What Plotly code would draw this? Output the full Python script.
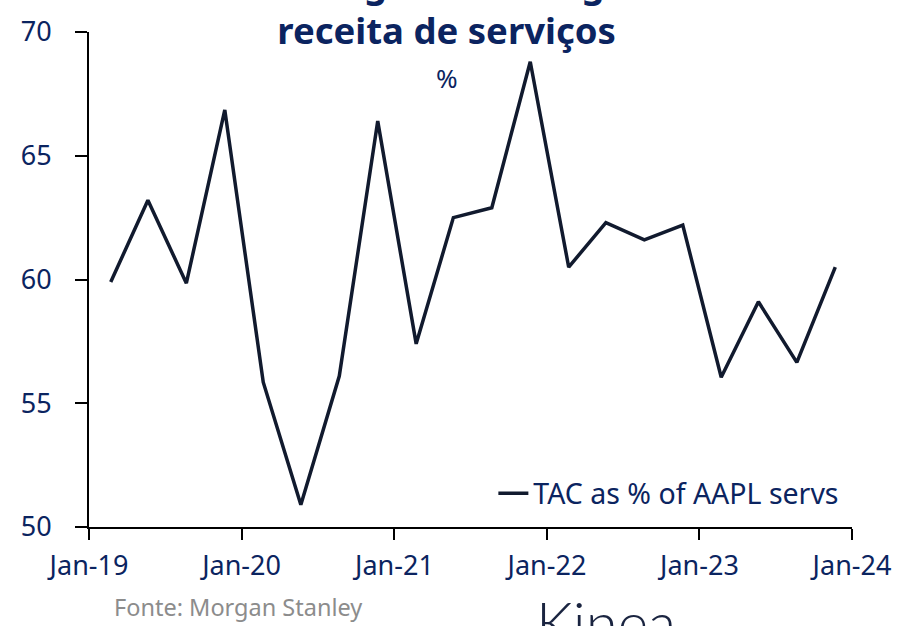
import plotly.graph_objects as go

dates = ["2019-02-22", "2019-05-22", "2019-08-22", "2019-11-22",
         "2020-02-22", "2020-05-22", "2020-08-22", "2020-11-22",
         "2021-02-22", "2021-05-22", "2021-08-22", "2021-11-22",
         "2022-02-22", "2022-05-22", "2022-08-22", "2022-11-22",
         "2023-02-22", "2023-05-22", "2023-08-22", "2023-11-22"]
tac_pct = [59.9, 63.2, 59.85, 66.85, 55.85, 50.9, 56.1, 66.4, 57.4, 62.5,
           62.9, 68.8, 60.5, 62.3, 61.6, 62.2, 56.05, 59.1, 56.65, 60.5]
series_name = "TAC as % of AAPL servs"
x_ticks = ["2019-01-01", "2020-01-01", "2021-01-01", "2022-01-01", "2023-01-01", "2024-01-01"]
x_tick_labels = ["Jan-19", "Jan-20", "Jan-21", "Jan-22", "Jan-23", "Jan-24"]
y_ticks = [50, 55, 60, 65, 70]

navy = "#0b2460"
linec = "#111a2e"
font = "Noto Sans"

fig = go.Figure()
fig.add_trace(go.Scatter(x=dates, y=tac_pct, mode="lines", name=series_name,
                         line=dict(color=linec, width=3.5)))

fig.update_layout(
    width=912, height=626,
    margin=dict(l=89, r=60, t=32, b=99),
    paper_bgcolor="white", plot_bgcolor="white",
    font=dict(family=font, color=navy, size=27),
    showlegend=True,
    legend=dict(x=0.99, xanchor="right", y=0.067, yanchor="middle",
                bgcolor="rgba(0,0,0,0)", font=dict(size=28.5, color=navy)),
    xaxis=dict(range=["2019-01-01", "2024-01-01"], tickvals=x_ticks, ticktext=x_tick_labels,
               showgrid=False, zeroline=False, showline=True, linecolor="black", linewidth=2,
               ticks="outside", ticklen=11, tickwidth=1.5, tickcolor="black", automargin=False,
               tickfont=dict(size=27, color=navy), ticklabelstandoff=3),
    yaxis=dict(range=[50, 70], tickvals=y_ticks, showgrid=False, zeroline=False,
               showline=True, linecolor="black", linewidth=2, automargin=False,
               ticks="outside", ticklen=12, tickwidth=1.5, tickcolor="black",
               tickfont=dict(size=27, color=navy), ticklabelstandoff=18),
    annotations=[
        dict(text="<b>Porcentagem do Google na<br>receita de serviços</b>", xref="paper", yref="paper",
             x=0.469, y=0.949, xanchor="center", yanchor="bottom", showarrow=False,
             font=dict(size=36.5, color=navy, family=font), align="center"),
        dict(text="%", xref="paper", yref="paper", x=0.469, y=0.907, xanchor="center",
             yanchor="middle", showarrow=False, font=dict(size=26, color=navy, family=font)),
        dict(text="Fonte: Morgan Stanley", xref="paper", yref="paper", x=0.03, y=-0.162,
             xanchor="left", yanchor="middle", showarrow=False,
             font=dict(size=23.5, color="#8c8c8c", family=font)),
        dict(text="Kinea", xref="paper", yref="paper", x=0.583, y=-0.117,
             xanchor="left", yanchor="top", showarrow=False,
             font=dict(size=58, color="#1a2440", family="Lato", weight=300)),
    ],
)

fig.write_html("out.html", post_script="document.body.style.margin='0px';",
               config={"displayModeBar": False})
